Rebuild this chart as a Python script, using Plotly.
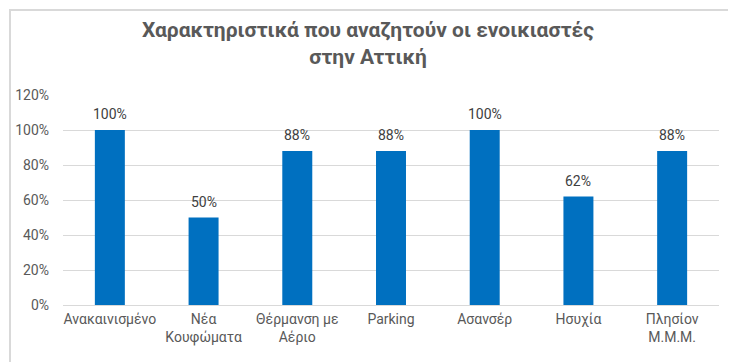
import plotly.graph_objects as go

categories = ["Ανακαινισμένο", "Νέα<br>Κουφώματα", "Θέρμανση με<br>Αέριο", "Parking",
              "Ασανσέρ", "Ησυχία", "Πλησίον<br>Μ.Μ.Μ."]
values = [1.00, 0.50, 0.88, 0.88, 1.00, 0.62, 0.88]
labels = ["100%", "50%", "88%", "88%", "100%", "62%", "88%"]
y_ticks = [0, 0.2, 0.4, 0.6, 0.8, 1.0, 1.2]
y_ticklabels = ["0%", "20%", "40%", "60%", "80%", "100%", "120%"]

FONT = "'Liberation Sans Narrow', Roboto, sans-serif"

# page body adds an 8px margin, so the figure is sized to fit the window
W, H = 728, 354
ML, MR, MT, MB = 55, 17, 87, 57
PW, PH = W - ML - MR, H - MT - MB

fig = go.Figure(go.Bar(
    x=categories, y=values,
    marker=dict(color="#0070C0", line=dict(width=0)),
    cliponaxis=False,
))

# data labels above bars
for c, v, t in zip(categories, values, labels):
    fig.add_annotation(x=c, y=v, text=t, showarrow=False, yanchor="bottom",
                       yshift=6, font=dict(size=14, color="#404040", family=FONT))

fig.update_layout(
    width=W, height=H,
    margin=dict(l=ML, r=MR, t=MT, b=MB, autoexpand=False),
    paper_bgcolor="white", plot_bgcolor="white",
    bargap=0.68,
    showlegend=False,
    title=dict(text="Χαρακτηριστικά που αναζητούν οι ενοικιαστές<br>στην Αττική",
               x=(368 - 8) / W, xref="container", xanchor="center",
               y=1 - 29 / H, yref="container", yanchor="top",
               font=dict(size=21, color="#595959", family=FONT, weight="bold")),
    font=dict(family=FONT, color="#595959", size=14),
)
fig.update_yaxes(range=[0, 1.2], tickvals=y_ticks, ticktext=y_ticklabels,
                 showgrid=True, gridcolor="#D9D9D9", gridwidth=1,
                 zeroline=True, zerolinecolor="#D9D9D9", zerolinewidth=1,
                 showline=False, ticks="", ticklabelstandoff=13, automargin=False,
                 tickfont=dict(size=14, color="#595959", family=FONT))
fig.update_xaxes(showgrid=False, showline=False, ticks="", automargin=False,
                 ticklabelstandoff=4,
                 tickfont=dict(size=14, color="#595959", family=FONT))

# outer chart border (frame box around the whole chart)
fig.add_annotation(xref="paper", yref="paper", x=-(ML - 1) / PW, y=1 + (MT - 1) / PH,
                   xanchor="left", yanchor="top", text=" ", showarrow=False,
                   width=W + 20, height=H + 20, borderwidth=2, bordercolor="#D9D9D9",
                   borderpad=0, bgcolor="rgba(0,0,0,0)")

fig.write_html("out.html")
